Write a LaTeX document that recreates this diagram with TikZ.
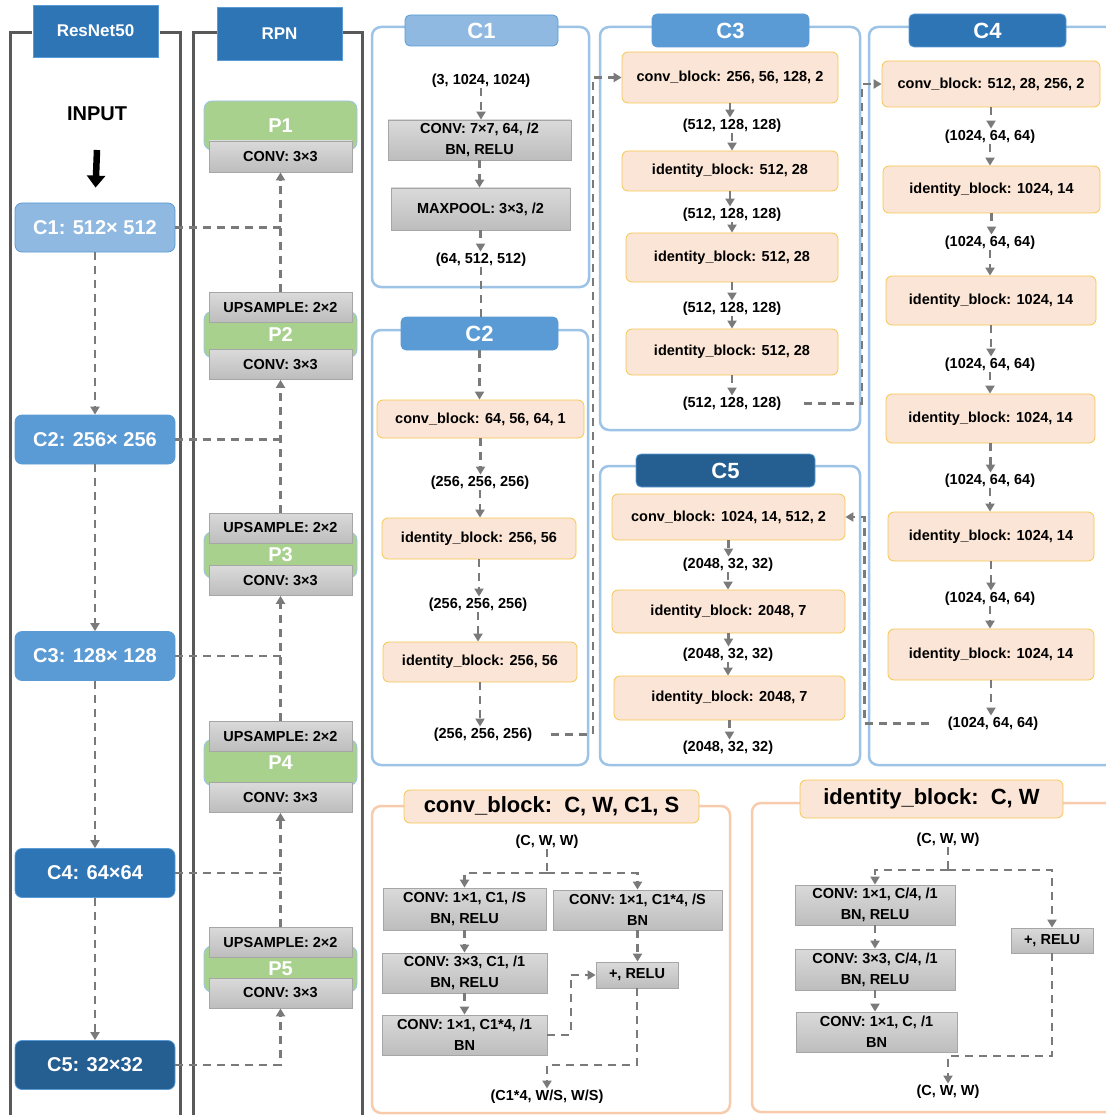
\documentclass[tikz,border=0pt]{standalone}
\usepackage{fontspec}
\setmainfont{Liberation Sans}
\usetikzlibrary{positioning,calc,arrows.meta}

\definecolor{rblueA}{HTML}{8FB9E0}
\definecolor{rblueB}{HTML}{5B9BD5}
\definecolor{rblueC}{HTML}{2E75B6}
\definecolor{rblueD}{HTML}{255E91}
\definecolor{pnlblue}{HTML}{9DC3E6}
\definecolor{peachF}{HTML}{FBE5D6}
\definecolor{goldB}{HTML}{F6C74E}
\definecolor{peachB}{HTML}{F8CBAD}
\definecolor{greenP}{HTML}{A9D18E}
\definecolor{frgray}{HTML}{595959}
\definecolor{argray}{HTML}{7A7A7A}
\definecolor{gTop}{HTML}{DADADA}
\definecolor{gBot}{HTML}{BDBDBD}
\definecolor{gBd}{HTML}{A6A6A6}

\newcommand{\fsm}{\fontsize{14.5}{21}\selectfont\bfseries}
\newcommand{\fmid}{\fontsize{17}{20}\selectfont\bfseries}
\newcommand{\fbig}{\fontsize{20}{24}\selectfont\bfseries}
\newcommand{\fttl}{\fontsize{22}{26}\selectfont\bfseries}

\tikzset{
  frame/.style = {draw=frgray, line width=3pt},
  coltitle/.style = {fill=rblueC, draw=rblueB, line width=0.8pt, text=white, font=\fmid, inner sep=0pt},
  cbox/.style = {rounded corners=7pt, draw=rblueB, line width=0.8pt, text=white, font=\fbig,
    minimum width=160, minimum height=49, inner sep=0pt},
  pbox/.style = {rounded corners=8pt, fill=greenP, draw=pnlblue, line width=0.8pt, text=white, font=\fbig,
    minimum width=153, inner sep=0pt},
  gbox/.style = {top color=gTop, bottom color=gBot, draw=gBd, line width=0.8pt, font=\fsm,
    align=center, inner sep=0pt},
  ybox/.style = {rounded corners=6pt, fill=peachF, draw=goldB, line width=0.8pt, font=\fsm, inner sep=0pt},
  ctitle/.style = {rounded corners=5pt, draw=rblueB, line width=0.8pt, text=white, font=\fttl, inner sep=0pt},
  pnl/.style = {draw=pnlblue, line width=2.5pt, rounded corners=9pt},
  bpnl/.style = {draw=peachB, line width=2.5pt, rounded corners=9pt},
  dim/.style = {font=\fsm, inner sep=1pt, yshift=-1.5pt},
  dline/.style = {draw=argray, line width=2.2pt, dash pattern=on 8pt off 6pt},
  dar/.style = {dline, -{Triangle[width=9pt,length=8pt]}},
  bigarrow/.style = {line width=6.5pt, -{Triangle[width=18pt,length=12pt]}},
}

\begin{document}
\begin{tikzpicture}[x=1pt, y=-1pt]
  \useasboundingbox (0,0) rectangle (1105,1115);

  % ResNet50 column
  \draw[frame] (32,33) -| (10,1115);
  \draw[frame] (160,33) -| (180,1115);
  \node[coltitle, minimum width=125, minimum height=52] (resnet) at (95.5,31) {ResNet50};
  \node[font=\fbig] (input) at (97,114) {INPUT};
  \coordinate (inarr) at (97,150);
  \node[cbox, fill=rblueA] (lc1) at (95,227.5) {C1: 512× 512};
  \node[cbox, fill=rblueB] (lc2) at (95,439.5) {C2: 256× 256};
  \node[cbox, fill=rblueB] (lc3) at (95,656) {C3: 128× 128};
  \node[cbox, fill=rblueC] (lc4) at (95,873) {C4: 64×64};
  \node[cbox, fill=rblueD] (lc5) at (95,1065) {C5: 32×32};
  \draw[bigarrow, shorten >=15pt] (inarr) -- (lc1.north);
  \foreach \a/\b in {lc1/lc2, lc2/lc3, lc3/lc4, lc4/lc5}
    \draw[dar] (\a.south) -- (\a.south |- \b.north);

  % RPN column
  \draw[frame] (217,33) -| (193,1115);
  \draw[frame] (342,33) -| (362,1115);
  \node[coltitle, minimum width=125, minimum height=53] (rpn) at (279.5,33.5) {RPN};
  \node[pbox, minimum height=49] (p1) at (280.5,125.5) {P1};
  \node[gbox, minimum width=143, minimum height=31] (cv1) at (280.5,156.5) {CONV: 3×3};
  \foreach \i/\gy/\uy/\cy in {2/334.5/307.5/364.5, 3/555/528/580.5, 4/762.5/736/797.5, 5/969/942/993} {
    \node[pbox, minimum height=46] (p\i) at (280.5,\gy) {P\i};
    \node[gbox, minimum width=143, minimum height=30] (up\i) at (280.5,\uy) {UPSAMPLE: 2×2};
    \node[gbox, minimum width=143, minimum height=30] (cv\i) at (280.5,\cy) {CONV: 3×3};
  }
  \draw[dline] (lc1.east) -- (lc1 -| up2.north);
  \draw[dline] (lc2.east) -- (lc2 -| up3.north);
  \draw[dline] (lc3.east) -- (lc3 -| up4.north);
  \draw[dline] (lc4.east) -- (lc4 -| up5.north);
  \foreach \a/\b in {up2/cv1, up3/cv2, up4/cv3, up5/cv4}
    \draw[dar] (\a.north) -- (\a.north |- \b.south);
  \draw[dar] (lc5.east) -| (cv5.south);

  % C1 stage
  \draw[pnl] (372,27) rectangle (589,287);
  \node[ctitle, fill=rblueA, minimum width=153, minimum height=31] (mc1) at (481.5,30.5) {C1};
  \node[dim] (t11) at (481,79) {(3, 1024, 1024)};
  \node[gbox, minimum width=183, minimum height=40] (g11) at (479.5,140) {CONV: 7×7, 64, /2\\BN, RELU};
  \node[gbox, minimum width=179, minimum height=42] (g12) at (480.5,209) {MAXPOOL: 3×3, /2};
  \node[dim] (t12) at (481,258) {(64, 512, 512)};
  \foreach \a/\b in {t11/g11, g11/g12, g12/t12}
    \draw[dar] (\a.south) -- (\a.south |- \b.north);

  % C2 stage
  \draw[pnl] (372,330) rectangle (588,765);
  \node[ctitle, fill=rblueB, minimum width=157, minimum height=33] (mc2) at (479.5,333.5) {C2};
  \draw[dline] (t12.south) -- (t12.south |- mc2.north);
  \node[ybox, minimum width=207, minimum height=38] (b21) at (480.5,419) {conv\_block: 64, 56, 64, 1};
  \node[dim] (t21) at (480,481) {(256, 256, 256)};
  \node[ybox, minimum width=194, minimum height=41] (b22) at (479,538.5) {identity\_block: 256, 56};
  \node[dim] (t22) at (478,603) {(256, 256, 256)};
  \node[ybox, minimum width=194, minimum height=40] (b23) at (480,662) {identity\_block: 256, 56};
  \node[dim] (t23) at (483,733) {(256, 256, 256)};
  \foreach \a/\b in {mc2/b21, b21/t21, t21/b22, b22/t22, t22/b23, b23/t23}
    \draw[dar] (\a.south) -- (\a.south |- \b.north);

  % C3 stage
  \draw[pnl] (600,27) rectangle (860,430);
  \node[ctitle, fill=rblueB, minimum width=157, minimum height=33] (mc3) at (730.5,30.5) {C3};
  \node[ybox, minimum width=216, minimum height=51] (b31) at (730,77.5) {conv\_block: 256, 56, 128, 2};
  \node[dim] (t31) at (732,124) {(512, 128, 128)};
  \node[ybox, minimum width=216, minimum height=40] (b32) at (730,171) {identity\_block: 512, 28};
  \node[dim] (t32) at (732,213) {(512, 128, 128)};
  \node[ybox, minimum width=212, minimum height=49] (b33) at (732,257.5) {identity\_block: 512, 28};
  \node[dim] (t33) at (732,307) {(512, 128, 128)};
  \node[ybox, minimum width=212, minimum height=46] (b34) at (732,352) {identity\_block: 512, 28};
  \node[dim] (t34) at (732,402) {(512, 128, 128)};
  \foreach \a/\b in {b31/t31, t31/b32, b32/t32, t32/b33, b33/t33, t33/b34, b34/t34}
    \draw[dar] (\a.south) -- (\a.south |- \b.north);
  \coordinate (k1) at ($(b31.west)+(-29,0)$);
  \draw[dar, shorten <=18pt] (t23.east) -| (k1) -- (b31.west);

  % C4 stage
  \draw[pnl] (869,27) rectangle (1120,765);
  \node[ctitle, fill=rblueC, minimum width=157, minimum height=33] (mc4) at (987.5,30.5) {C4};
  \node[ybox, minimum width=218, minimum height=46] (b41) at (991,84) {conv\_block: 512, 28, 256, 2};
  \node[dim] (t41) at (990,135) {(1024, 64, 64)};
  \node[ybox, minimum width=217, minimum height=47] (b42) at (991.5,189.5) {identity\_block: 1024, 14};
  \node[dim] (t42) at (990,241) {(1024, 64, 64)};
  \node[ybox, minimum width=210, minimum height=49] (b43) at (991,300.5) {identity\_block: 1024, 14};
  \node[dim] (t43) at (990,363) {(1024, 64, 64)};
  \node[ybox, minimum width=209, minimum height=49] (b44) at (990.5,418.5) {identity\_block: 1024, 14};
  \node[dim] (t44) at (990,479) {(1024, 64, 64)};
  \node[ybox, minimum width=206, minimum height=49] (b45) at (991,536.5) {identity\_block: 1024, 14};
  \node[dim] (t45) at (990,597) {(1024, 64, 64)};
  \node[ybox, minimum width=206, minimum height=51] (b46) at (991,654.5) {identity\_block: 1024, 14};
  \node[dim] (t46) at (993,722) {(1024, 64, 64)};
  \foreach \a/\b in {b41/t41, t41/b42, b42/t42, t42/b43, b43/t43, t43/b44, b44/t44, t44/b45, b45/t45, t45/b46, b46/t46}
    \draw[dar] (\a.south) -- (\a.south |- \b.north);
  \coordinate (k2) at ($(b41.west)+(-20,0)$);
  \draw[dar, shorten <=22pt] (t34.east) -| (k2) -- (b41.west);

  % C5 stage
  \draw[pnl] (600,466) rectangle (860,765);
  \node[ctitle, fill=rblueD, minimum width=179, minimum height=33] (mc5) at (725.5,470.5) {C5};
  \node[ybox, minimum width=233, minimum height=46] (b51) at (728.5,517) {conv\_block: 1024, 14, 512, 2};
  \node[dim] (t51) at (728,563) {(2048, 32, 32)};
  \node[ybox, minimum width=233, minimum height=43] (b52) at (728.5,611.5) {identity\_block: 2048, 7};
  \node[dim] (t52) at (728,653) {(2048, 32, 32)};
  \node[ybox, minimum width=231, minimum height=44] (b53) at (729.5,698) {identity\_block: 2048, 7};
  \node[dim] (t53) at (728,746) {(2048, 32, 32)};
  \foreach \a/\b in {b51/t51, t51/b52, b52/t52, t52/b53, b53/t53}
    \draw[dar] (\a.south) -- (\a.south |- \b.north);
  \coordinate (k3) at ($(b51.east)+(19,0)$);
  \draw[dar, shorten <=18pt] (t46.west) -| (k3) -- (b51.east);

  % conv_block detail
  \draw[bpnl] (372,806) rectangle (730,1113);
  \node[ybox, font=\fttl, minimum width=295, minimum height=33] (cbt) at (551.5,806.5) {conv\_block:\ \ C, W, C1, S};
  \node[dim] (u0) at (547,840) {(C, W, W)};
  \node[gbox, minimum width=163, minimum height=42] (ca1) at (464.5,909) {CONV: 1×1, C1, /S\\BN, RELU};
  \node[gbox, minimum width=165, minimum height=40] (ca2) at (464.5,973) {CONV: 3×3, C1, /1\\BN, RELU};
  \node[gbox, minimum width=165, minimum height=40] (ca3) at (464.5,1035) {CONV: 1×1, C1*4, /1\\BN};
  \node[gbox, minimum width=169, minimum height=40] (cb1) at (637.5,910) {CONV: 1×1, C1*4, /S\\BN};
  \node[gbox, minimum width=82, minimum height=26] (cadd) at (637,975) {+, RELU};
  \node[dim] (u1) at (547,1095) {(C1*4, W/S, W/S)};
  \coordinate (cs) at (547,873);
  \draw[dline] (u0.south) -- (cs);
  \draw[dar] (cs) -| (ca1.north);
  \draw[dar] (cs) -| (cb1.north);
  \draw[dar] (ca1.south) -- (ca1.south |- ca2.north);
  \draw[dar] (ca2.south) -- (ca2.south |- ca3.north);
  \draw[dar] (cb1.south) -- (cb1.south |- cadd.north);
  \coordinate (cm) at ($(cadd.west)+(-25,0)$);
  \draw[dar] (ca3.east) -| (cm) -- (cadd.west);
  \coordinate (cj) at (547,1065);
  \draw[dar] (cadd.south) |- (cj) -- (u1.north);

  % identity_block detail
  \draw[bpnl] (752,803) rectangle (1120,1112);
  \node[ybox, font=\fttl, minimum width=263, minimum height=38] (ibt) at (931.5,799) {identity\_block:\ \ C, W};
  \node[dim] (v0) at (948,838) {(C, W, W)};
  \node[gbox, minimum width=160, minimum height=40] (ia1) at (875,905) {CONV: 1×1, C/4, /1\\BN, RELU};
  \node[gbox, minimum width=160, minimum height=41] (ia2) at (875,969.5) {CONV: 3×3, C/4, /1\\BN, RELU};
  \node[gbox, minimum width=161, minimum height=40] (ia3) at (876.5,1032) {CONV: 1×1, C, /1\\BN};
  \node[gbox, minimum width=82, minimum height=25] (iadd) at (1052,940.5) {+, RELU};
  \node[dim] (v1) at (948,1090) {(C, W, W)};
  \coordinate (is) at (948,870);
  \draw[dline] (v0.south) -- (is);
  \draw[dar] (is) -| (ia1.north);
  \draw[dar] (is) -| (iadd.north);
  \draw[dar] (ia1.south) -- (ia1.south |- ia2.north);
  \draw[dar] (ia2.south) -- (ia2.south |- ia3.north);
  \coordinate (ij) at (948,1056);
  \draw[dar] (iadd.south) |- (ij) -- (v1.north);
\end{tikzpicture}
\end{document}
